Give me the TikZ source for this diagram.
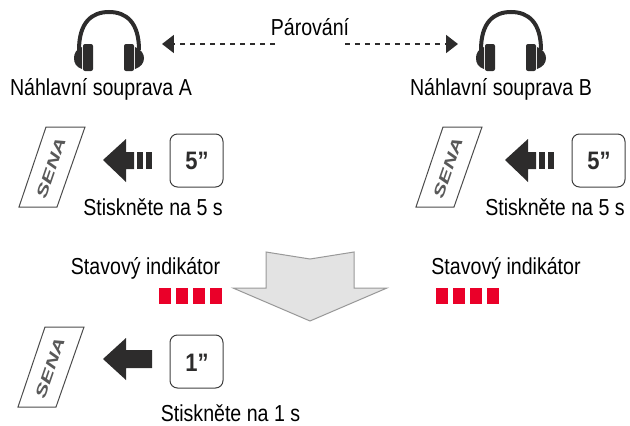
\documentclass[tikz,border=0pt]{standalone}
\usepackage{fontspec}
\setmainfont{Liberation Sans}
\usetikzlibrary{arrows.meta}
\definecolor{ledred}{HTML}{EA0029}
\definecolor{inkdark}{HTML}{2D2C2C}
\tikzset{
	label text/.style={inner sep=0, anchor=base, yscale=1.18, font=\fontsize{11.15}{13}\selectfont, text=black},
	time text/.style={inner sep=0, yscale=1.15, font=\fontsize{12.5}{14}\bfseries\selectfont, text=inkdark},
	time box/.style={draw=black!75, line width=0.02cm, rounded corners=0.15cm},
	device/.style={draw=black!70, line width=0.02cm},
	device text/.style={inner sep=0, rotate=71, font=\fontsize{8.6}{9}\bfseries\itshape\selectfont\addfontfeature{FakeStretch=1.5}, text=black!65},
	block/.style={fill=inkdark},
	led/.style={fill=ledred},
	pair line/.style={line width=0.04cm, color=inkdark, dash pattern=on 0.11cm off 0.09cm, -{Triangle[length=0.24cm,width=0.36cm]}}
}
% headset at the centre of its band
\def\headset(#1,#2){
	\begin{scope}[shift={(#1,#2)}]
		\draw[line width=0.08cm, color=inkdark] (-30,50) .. controls (-30,22) and (-17,12) .. (0,12) .. controls (17,12) and (30,22) .. (30,50);
		\fill[block, rounded corners=0.04cm] (-26,44) rectangle (-16,71);
		\fill[block, rounded corners=0.04cm] (15,44) rectangle (25,71);
		\fill[block] (-27,47) .. controls (-33,49) and (-35,54) .. (-35,58) .. controls (-35,63) and (-33,67) .. (-27,69) -- cycle;
		\fill[block] (26,47) .. controls (32,49) and (35,54) .. (35,58) .. controls (35,63) and (32,67) .. (26,69) -- cycle;
	\end{scope}
}
% button strip with the brand on it
\def\sena(#1,#2)#3{
	\begin{scope}[shift={(#1,#2)}]
		\draw[device] (46,127) -- (85,127) -- (57,207) -- (19,207) -- cycle;
		\node[device text] (#3) at (51,168) {SENA};
	\end{scope}
}
% arrow towards the strip; the long one has no bars behind it
\def\pressbars(#1,#2){
	\begin{scope}[shift={(#1,#2)}]
		\fill[block] (103,160) -- (126,139) -- (126,152) -- (134,152) -- (134,169) -- (126,169) -- (126,182) -- cycle;
		\fill[block] (137,152) rectangle (143,169);
		\fill[block] (146,152) rectangle (152,169);
	\end{scope}
}
\def\leds(#1,#2){
	\foreach \i in {0,1,2,3}
		\fill[led] ({#1+17*\i},#2) rectangle ({#1+12+17*\i},{#2+16});
}
\begin{document}
\begin{tikzpicture}[x=0.02cm,y=-0.02cm]
	\useasboundingbox (0,0) rectangle (630,426);

	\headset(109,0)
	\headset(511,0)
	\node[label text] (headsetA) at (101,95) {Náhlavní souprava A};
	\node[label text] (headsetB) at (501,95) {Náhlavní souprava B};

	\node[label text] (pairing) at (310,35) {Párování};
	\coordinate (tipA) at (162,44);
	\coordinate (tipB) at (458,44);
	\coordinate (startA) at (275,44);
	\coordinate (startB) at (345,44);
	\draw[pair line] (startA) -- (tipA);
	\draw[pair line] (startB) -- (tipB);

	\sena(0,0){senaA}
	\pressbars(0,0)
	\draw[time box] (170,134) rectangle (223,187);
	\node[time text] (timeA) at (197,161) {5”};
	\node[label text] (pressA) at (153,215) {Stiskněte na 5 s};

	\sena(397,0){senaB}
	\pressbars(402,0)
	\draw[time box] (572,134) rectangle (625,187);
	\node[time text] (timeB) at (599,161) {5”};
	\node[label text] (pressB) at (555,215) {Stiskněte na 5 s};

	\node[label text] (statusA) at (145.5,275) {Stavový indikátor};
	\leds(159,288)
	\node[label text] (statusB) at (506,275) {Stavový indikátor};
	\leds(436,288)

	\draw[fill=black!11, draw=black!40, line width=0.02cm] (266,252) -- (310,259) -- (354,252) -- (354,288) -- (387,288) -- (310,321) -- (233,288) -- (266,288) -- cycle;

	\sena(-1,200){senaC}
	\fill[block] (103,359) -- (126,338) -- (126,350) -- (152,350) -- (152,368) -- (126,368) -- (126,380) -- cycle;
	\draw[time box] (170,335) rectangle (223,388);
	\node[time text] (timeC) at (197,363) {1”};
	\node[label text] (pressC) at (230.5,421) {Stiskněte na 1 s};
\end{tikzpicture}
\end{document}
